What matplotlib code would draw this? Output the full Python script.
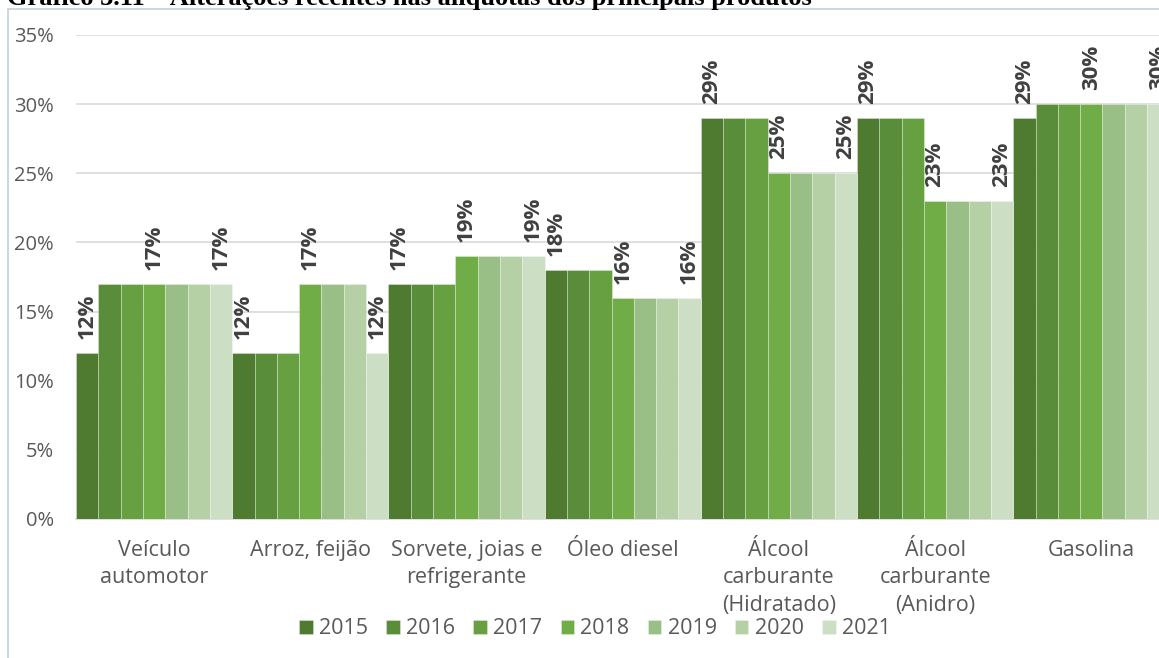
import matplotlib
matplotlib.use("Agg")
import matplotlib.pyplot as plt
from matplotlib.patches import Rectangle
from matplotlib.ticker import PercentFormatter
import numpy as np

plt.rcParams['font.family'] = ['Open Sans', 'DejaVu Sans']

categories = ["Veículo\nautomotor", "Arroz, feijão", "Sorvete, joias e\nrefrigerante",
              "Óleo diesel", "Álcool\ncarburante\n(Hidratado)", "Álcool\ncarburante\n(Anidro)",
              "Gasolina"]
years = ["2015", "2016", "2017", "2018", "2019", "2020", "2021"]
values = {
    "2015": [12, 12, 17, 18, 29, 29, 29],
    "2016": [17, 12, 17, 18, 29, 29, 30],
    "2017": [17, 12, 17, 18, 29, 29, 30],
    "2018": [17, 17, 19, 16, 25, 23, 30],
    "2019": [17, 17, 19, 16, 25, 23, 30],
    "2020": [17, 17, 19, 16, 25, 23, 30],
    "2021": [17, 12, 19, 16, 25, 23, 30],
}
labeled_years = ["2015", "2018", "2021"]
colors = ['#4E7B30', '#5A8D39', '#67A041', '#70AD47', '#9ABF86', '#B5D0A5', '#CCDFC5']

W, H = 1159, 658
fig = plt.figure(figsize=(W / 100, H / 100), dpi=100)
ax = fig.add_axes([76 / W, (H - 519) / H, (W - 76) / W, (519 - 35) / H])

n = len(years)
bw = 1.0 / n
x = np.arange(len(categories))
for i, (yr, c) in enumerate(zip(years, colors)):
    pos = x - 0.5 + bw * (i + 0.5)
    vals = np.array(values[yr]) / 100.0
    ax.bar(pos, vals, width=bw, color=c, edgecolor=(1, 1, 1, 0.35), linewidth=0.6,
           label=yr, zorder=3)
    if yr in labeled_years:
        for px, v in zip(pos, vals):
            ax.annotate(f"{v*100:.0f}%", (px, v), xytext=(0, 10), textcoords='offset points',
                        rotation=90, ha='center', va='bottom', fontsize=16,
                        fontweight='bold', color='#404040', zorder=4, annotation_clip=False)

ax.set_xlim(-0.5, -0.5 + (W - 76) / 156.2)
ax.set_ylim(0, 0.35)
ax.set_yticks(np.arange(0, 0.351, 0.05))
ax.yaxis.set_major_formatter(PercentFormatter(1.0, decimals=0))
ax.set_xticks(x)
ax.set_xticklabels(categories, linespacing=1.4)
ax.tick_params(axis='y', length=0, pad=16, labelsize=14.5, labelcolor='#595959')
ax.tick_params(axis='x', length=0, pad=15, labelsize=15.5, labelcolor='#595959')
for s in ['top', 'right', 'left']:
    ax.spines[s].set_visible(False)
ax.spines['bottom'].set_color('#d9d9d9')
ax.spines['bottom'].set_linewidth(1.2)
ax.yaxis.grid(True, color='#d9d9d9', linewidth=1.2, zorder=0)
ax.set_axisbelow(True)

leg = fig.legend(loc='center', bbox_to_anchor=(595 / W, 1 - 629 / H), ncol=7, frameon=False,
                 fontsize=15.5, handlelength=0.62, handleheight=0.62, handletextpad=0.3,
                 columnspacing=0.85, labelcolor='#595959', borderpad=0)

# frame around chart area
fig.patches.append(Rectangle((8 / W, -0.1), 1.2, 1 - 9 / H + 0.1, transform=fig.transFigure,
                             fill=False, edgecolor='#c5ced8', linewidth=1.2))

fig.text(7 / W, 1 - 5 / H, "Gráfico 3.11 – Alterações recentes nas alíquotas dos principais produtos",
         family='Liberation Serif', fontweight='bold', fontsize=19, va='baseline', ha='left',
         color='black')

fig.savefig("out.png", dpi=100)
